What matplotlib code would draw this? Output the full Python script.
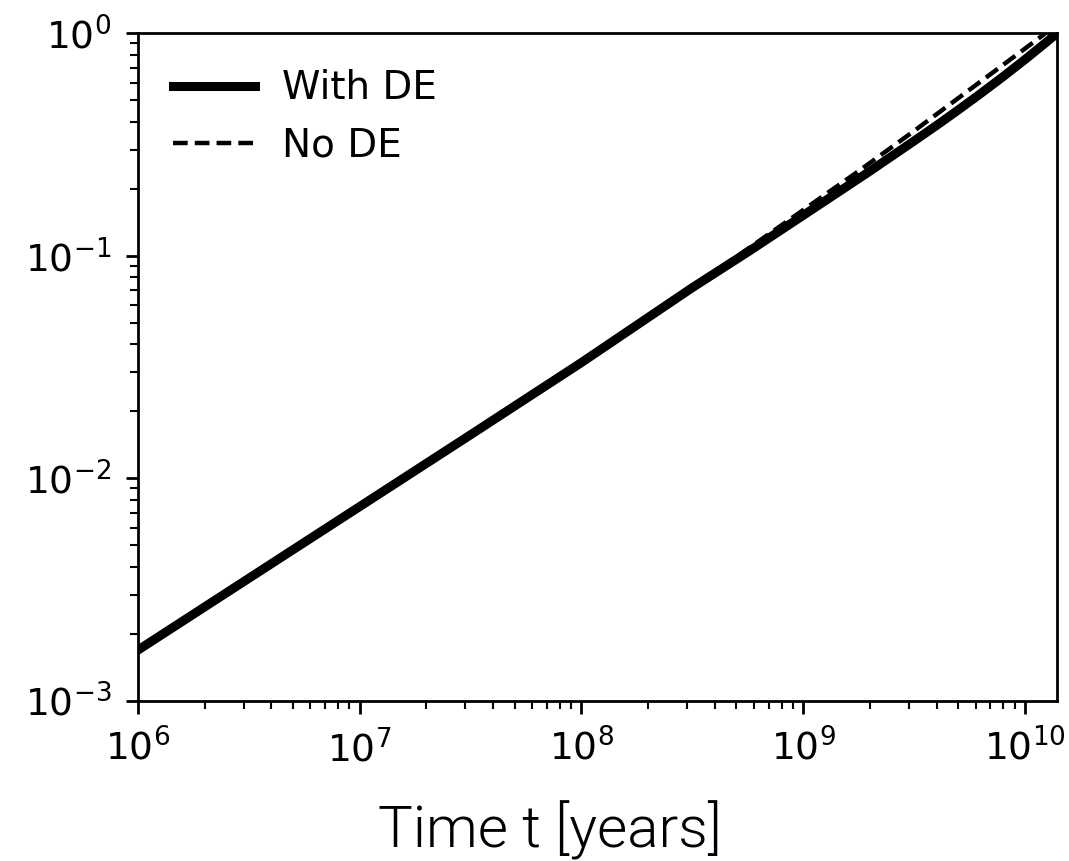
import matplotlib
matplotlib.use('Agg')
import matplotlib.pyplot as plt

# values (time in years, scale factor a)
t_de = [1e6, 3.16e6, 1e7, 3.16e7, 1e8, 3.16e8, 5.62e8, 1e9, 1.585e9, 2e9, 2.51e9,
	3.16e9, 3.98e9, 5.01e9, 6.31e9, 7.94e9, 1e10, 1.26e10, 1.4e10]
a_de = [1.69e-3, 3.55e-3, 7.46e-3, 1.567e-2, 3.31e-2, 7.18e-2, 0.1038, 0.1517, 0.2056, 0.2399, 0.2799,
	0.3273, 0.3837, 0.4519, 0.5346, 0.6353, 0.7603, 0.9162, 1.0]

t_node = [1e6, 3.16e6, 1e7, 3.16e7, 1e8, 3.16e8, 5.62e8, 1e9, 1.78e9, 3.16e9, 5.62e9, 7.94e9, 1e10, 1.26e10]
a_node = [1.69e-3, 3.55e-3, 7.46e-3, 1.567e-2, 3.31e-2, 7.18e-2, 0.1072, 0.1603, 0.2399, 0.3631, 0.5559, 0.7178, 0.8511, 1.012]

labels = ['With DE', 'No DE']

fig = plt.figure(figsize=(10.69, 8.61), dpi=100)
ax = fig.add_axes([0.129, 0.186, 0.86, 0.7755])

ax.plot(t_de, a_de, color='black', lw=6.5, label=labels[0])
ax.plot(t_node, a_node, color='black', lw=3.2, ls=(0, (3.3, 1.6)), label=labels[1])

ax.set_xscale('log')
ax.set_yscale('log')
ax.set_xlim(1e6, 1.4e10)
ax.set_ylim(1e-3, 1)

for s in ax.spines.values():
	s.set_linewidth(2.0)
ax.tick_params(which='major', length=9, width=2, labelsize=27)
ax.tick_params(axis='x', which='major', pad=11.5)
ax.tick_params(axis='y', which='major', pad=10)
ax.tick_params(which='minor', length=5.5, width=1.5)

ax.legend(loc='upper left', bbox_to_anchor=(0.129, 0.96), bbox_transform=fig.transFigure,
	frameon=False, fontsize=28, handlelength=2.1, handletextpad=0.7, labelspacing=0.5)

fig.text(0.5145, 0.016, 'Time t [years]', ha='center', va='baseline',
	fontsize=42, family='Roboto', fontweight=300)

plt.savefig('out.png', dpi=100)
